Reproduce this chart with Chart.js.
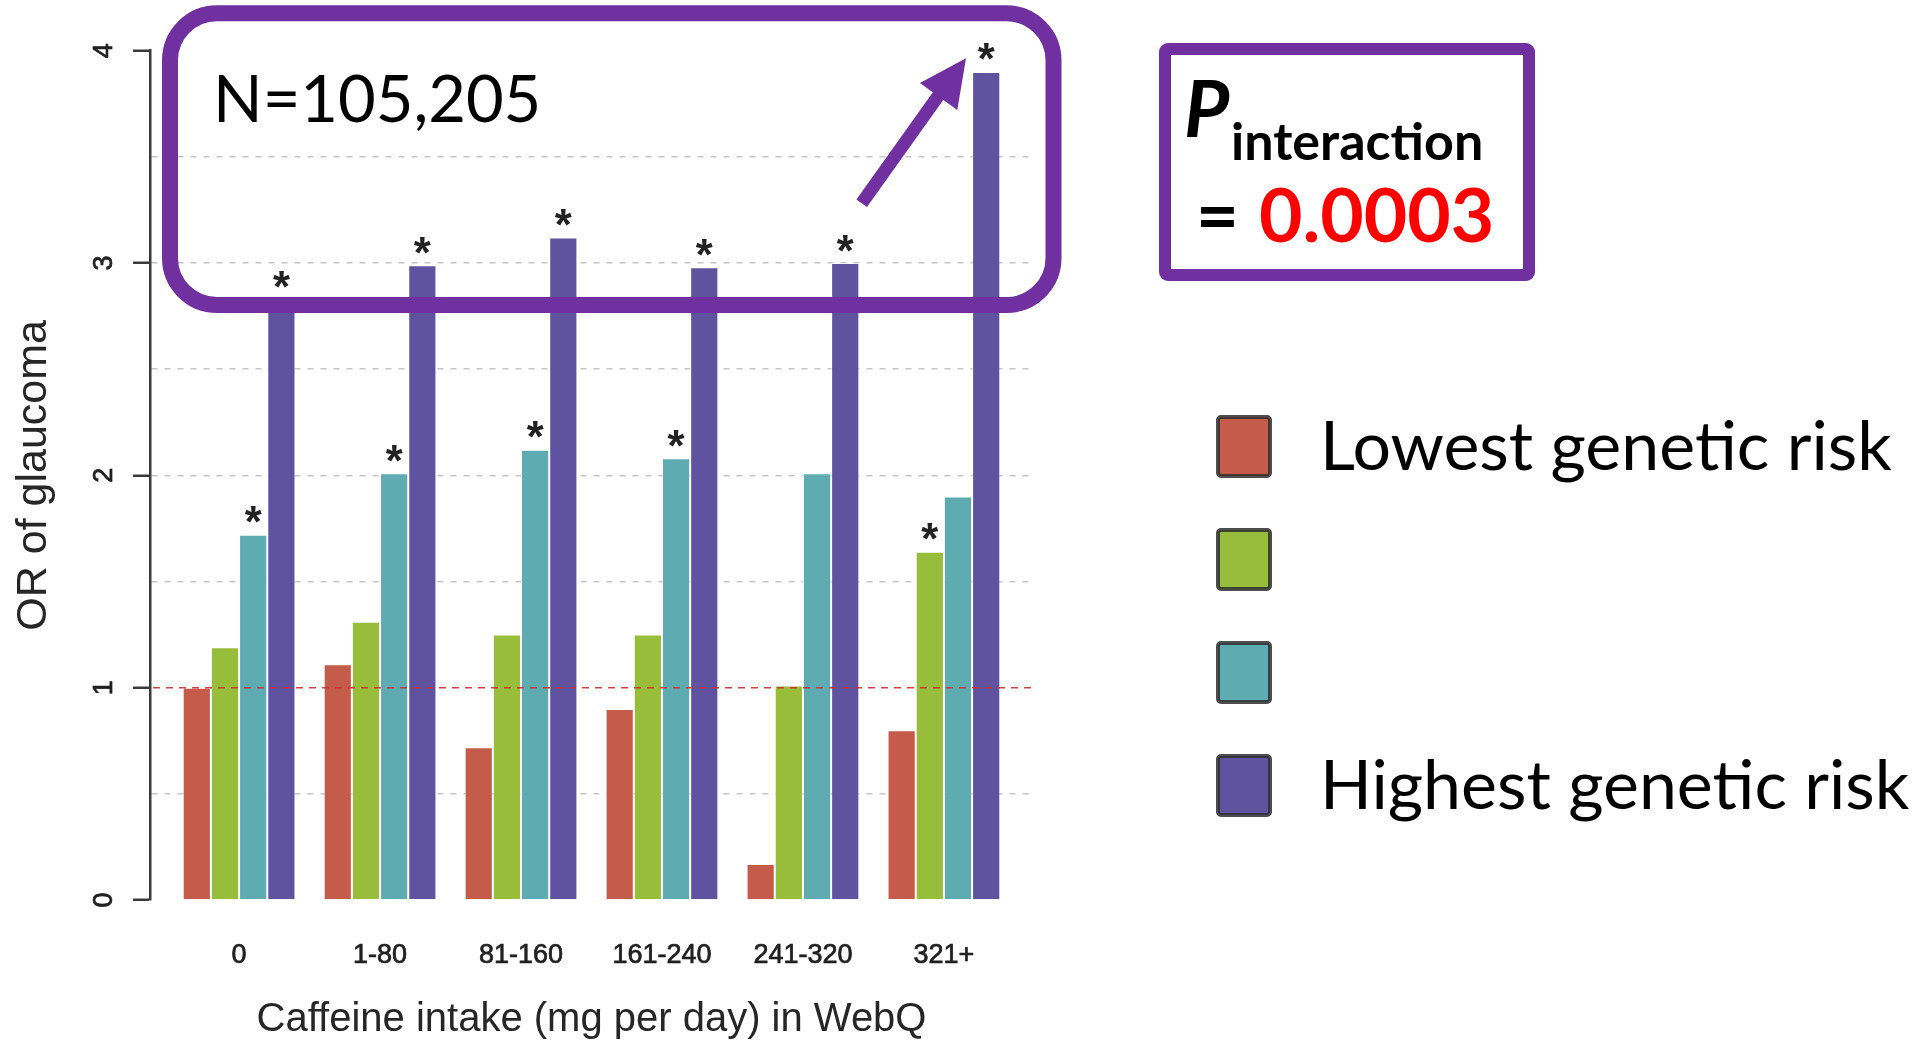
<!DOCTYPE html>
<html>
<head>
<meta charset="utf-8">
<script src="https://cdn.jsdelivr.net/npm/chart.js@4.4.1/dist/chart.umd.min.js"></script>
<style>
html,body{margin:0;padding:0;background:#fff;overflow:hidden;}
#wrap{position:relative;width:1921px;height:1045px;}
#c{position:absolute;left:0;top:0;}
#ov{position:absolute;left:0;top:0;pointer-events:none;}
</style>
</head>
<body>
<div id="wrap">
<canvas id="c" width="1921" height="1045"></canvas>
<svg id="ov" width="1921" height="1045" xmlns="http://www.w3.org/2000/svg"></svg>
</div>
<script>
// ---- data ----
const categories = ['0', '1-80', '81-160', '161-240', '241-320', '321+'];
const seriesNames = ['Lowest genetic risk', '', '', 'Highest genetic risk'];
const lowestRisk  = [1.00, 1.11, 0.72, 0.90, 0.17, 0.80];
const secondRisk  = [1.19, 1.31, 1.25, 1.25, 1.01, 1.64];
const thirdRisk   = [1.72, 2.01, 2.12, 2.08, 2.01, 1.90];
const highestRisk = [2.83, 2.99, 3.12, 2.98, 3.00, 3.90];
const lowestSig  = [0, 0, 0, 0, 0, 0];
const secondSig  = [0, 0, 0, 0, 0, 1];
const thirdSig   = [1, 1, 1, 1, 0, 0];
const highestSig = [1, 1, 1, 1, 1, 1];
const yTickValues = [0, 1, 2, 3, 4];
const referenceOR = 1;
const sampleSizeText = 'N=105,205';
const pInteractionValue = '0.0003';
const xTitle = 'Caffeine intake (mg per day) in WebQ';
const yTitle = 'OR of glaucoma';

// ---- styles ----
const colors = ['#c55c4b', '#98bd3b', '#5fabb2', '#5f539f'];
const purple = '#7030a0';

const series = [lowestRisk, secondRisk, thirdRisk, highestRisk];
const sigs = [lowestSig, secondSig, thirdSig, highestSig];

const datasets = series.map((vals, k) => ({
  label: seriesNames[k] || ('Genetic risk group ' + (k + 1)),
  data: vals.map((v, i) => ({ x: i, y: v })),
  backgroundColor: colors[k],
  borderColor: 'rgba(255,255,255,0.55)',
  borderWidth: 1,
  categoryPercentage: 0.8,
  barPercentage: 1.0
}));

const overlayPlugin = {
  id: 'overlayMarks',
  afterDatasetsDraw(chart) {
    const { ctx, chartArea, scales: { y } } = chart;
    // reference line at OR = 1 (drawn over bars)
    const py = y.getPixelForValue(referenceOR);
    ctx.save();
    ctx.strokeStyle = 'rgba(205,45,45,0.9)';
    ctx.lineWidth = 1.6;
    ctx.setLineDash([7, 6]);
    ctx.beginPath();
    ctx.moveTo(chartArea.left + 3, py);
    ctx.lineTo(chartArea.right, py);
    ctx.stroke();
    ctx.restore();
    // significance stars
    ctx.save();
    ctx.font = 'bold 100px "Liberation Sans"';
    const m0 = ctx.measureText('*');
    const ink0 = m0.actualBoundingBoxLeft + m0.actualBoundingBoxRight;
    const size = 100 * 17 / ink0;
    ctx.font = 'bold ' + size + 'px "Liberation Sans"';
    const m = ctx.measureText('*');
    ctx.fillStyle = '#222';
    ctx.textAlign = 'center';
    ctx.textBaseline = 'alphabetic';
    sigs.forEach((flags, k) => {
      const meta = chart.getDatasetMeta(k);
      flags.forEach((f, i) => {
        if (!f) return;
        const bar = meta.data[i];
        const cy = bar.y - 20;
        const by = cy - (m.actualBoundingBoxDescent - m.actualBoundingBoxAscent) / 2;
        ctx.fillText('*', bar.x, by);
      });
    });
    ctx.restore();
  }
};

const tickFont = { family: '"Liberation Sans", Arial, sans-serif', size: 27 };

new Chart(document.getElementById('c'), {
  type: 'bar',
  data: { datasets },
  options: {
    responsive: false,
    animation: false,
    devicePixelRatio: 1,
    layout: { padding: { left: 0, top: 50.7, right: 888, bottom: 0 } },
    plugins: { legend: { display: false }, tooltip: { enabled: false } },
    scales: {
      x: {
        type: 'linear',
        min: -0.632,
        max: 5.632,
        bounds: 'data',
        offset: false,
        afterBuildTicks: (s) => { s.ticks = categories.map((c, i) => ({ value: i })); },
        afterFit: (s) => { s.height = 145; },
        grid: { display: false, drawTicks: false },
        border: { display: false },
        ticks: {
          autoSkip: false, maxRotation: 0, minRotation: 0,
          padding: 39,
          font: tickFont, color: '#202020',
          textStrokeColor: '#202020', textStrokeWidth: 0.7,
          callback: (v) => categories[v]
        },
        title: {
          display: true, text: xTitle, color: '#262626',
          font: { family: '"Liberation Sans", Arial, sans-serif', size: 40 },
          padding: { top: 0, bottom: 1 }
        }
      },
      y: {
        min: yTickValues[0],
        max: yTickValues[yTickValues.length - 1],
        afterFit: (s) => { s.width = 150; },
        ticks: {
          stepSize: 0.5,
          autoSkip: false,
          minRotation: 90, maxRotation: 90,
          crossAlign: 'center',
          padding: 21,
          font: tickFont, color: '#202020',
          textStrokeColor: '#202020', textStrokeWidth: 0.7,
          callback: (v) => (yTickValues.includes(v) ? String(v) : '')
        },
        grid: {
          lineWidth: 1.5,
          color: (c) => {
            const v = c.tick ? c.tick.value : null;
            if (v === null || yTickValues[0] >= v || v >= yTickValues[yTickValues.length - 1] || v === referenceOR) return 'rgba(0,0,0,0)';
            return '#c6c6c6';
          },
          tickLength: 17,
          tickWidth: 2.5,
          tickColor: (c) => (c.tick && yTickValues.includes(c.tick.value)) ? '#3a3a3a' : 'rgba(0,0,0,0)'
        },
        border: { display: true, color: '#3a3a3a', width: 2.5, dash: [6, 7] },
        title: {
          display: true, text: yTitle, color: '#262626',
          font: { family: '"Liberation Sans", Arial, sans-serif', size: 43 },
          padding: { top: 8, bottom: 0 }
        }
      }
    }
  },
  plugins: [overlayPlugin]
});

// ---- annotations & legend (SVG overlay) ----
const NS = 'http://www.w3.org/2000/svg';
const svg = document.getElementById('ov');
function add(tag, attrs, text) {
  const e = document.createElementNS(NS, tag);
  for (const k in attrs) e.setAttribute(k, attrs[k]);
  if (text !== undefined) e.textContent = text;
  svg.appendChild(e);
  return e;
}
// highlight box
add('rect', { x: 170, y: 13.3, width: 883.5, height: 291.7, rx: 47, ry: 47, fill: 'none', stroke: purple, 'stroke-width': 16 });
add('text', { x: 213, y: 121.7, 'font-family': 'Lato, sans-serif', 'font-size': 65, fill: '#000' }, sampleSizeText);
// arrow
add('line', { x1: 861.7, y1: 203.3, x2: 941, y2: 92, stroke: purple, 'stroke-width': 13, 'stroke-linecap': 'butt' });
add('polygon', { points: '966,58.3 919.9,83.1 957.3,109.9', fill: purple });
// P interaction box
add('rect', { x: 1165, y: 49, width: 364, height: 226, rx: 3, ry: 3, fill: '#fff', stroke: purple, 'stroke-width': 12 });
add('text', { x: 1184, y: 137.3, 'font-family': 'Lato, sans-serif', 'font-weight': 'bold', 'font-style': 'italic', 'font-size': 78, fill: '#000' }, 'P');
add('text', { x: 1231, y: 160, 'font-family': 'Lato, sans-serif', 'font-weight': 'bold', 'font-size': 52, fill: '#000' }, 'interaction');
add('text', { x: 1196, y: 241.7, 'font-family': 'Lato, sans-serif', 'font-weight': 'bold', 'font-size': 74, fill: '#000' }, '=');
add('text', { x: 1259, y: 241.7, 'font-family': 'Lato, sans-serif', 'font-weight': 'bold', 'font-size': 75, fill: '#ff0000' }, pInteractionValue);
// legend
seriesNames.forEach((name, k) => {
  const top = 417 + k * 113;
  add('rect', { x: 1218, y: top, width: 52, height: 59, rx: 3, ry: 3, fill: colors[k], stroke: '#2e2e2e', 'stroke-width': 4, 'stroke-opacity': 0.85 });
  if (name) add('text', { x: 1320, y: top + 53, 'font-family': 'Lato, sans-serif', 'font-size': 68, fill: '#000' }, name);
});
</script>
</body>
</html>
